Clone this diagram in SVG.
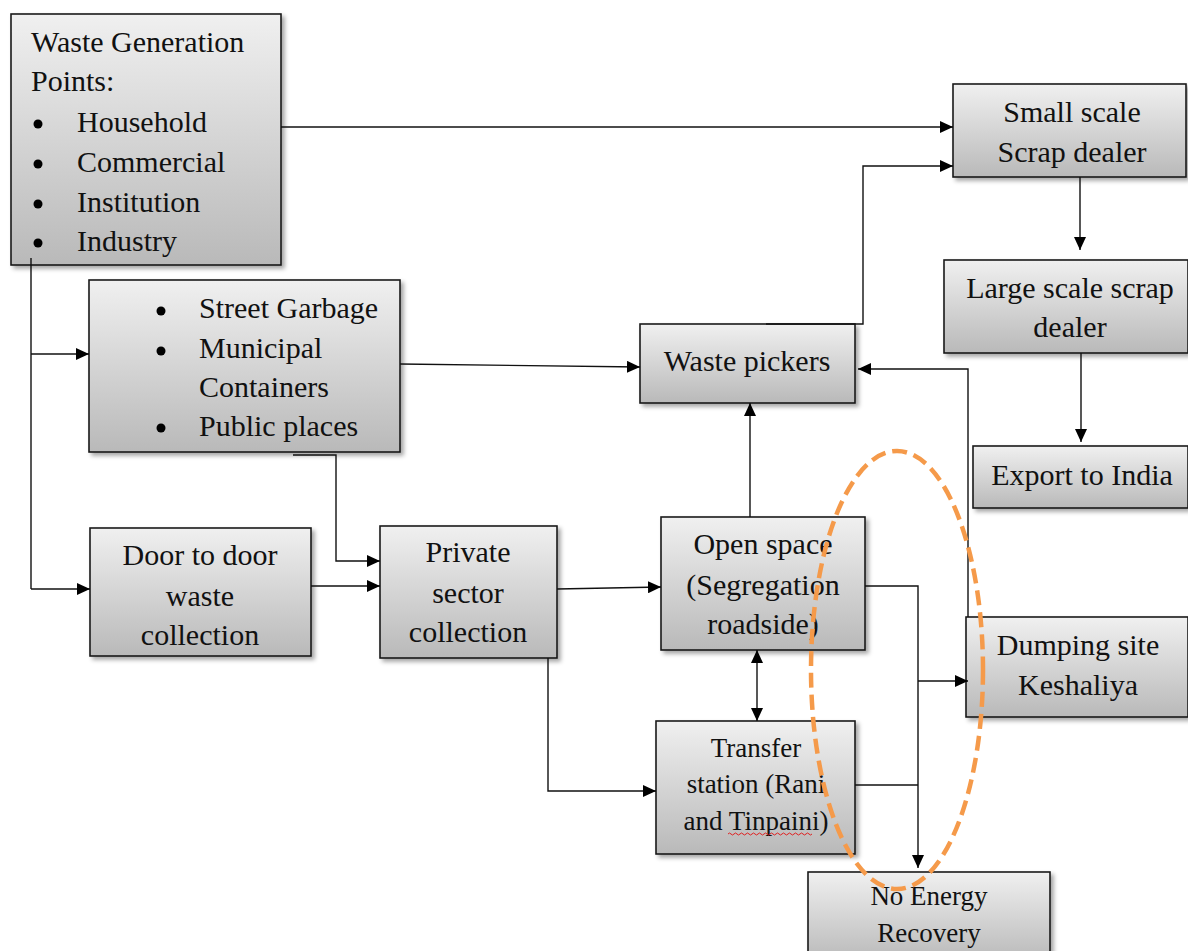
<svg xmlns="http://www.w3.org/2000/svg" width="1188" height="951" viewBox="0 0 1188 951">
<defs>
<linearGradient id="g" x1="0" y1="0" x2="0" y2="1">
<stop offset="0" stop-color="#f0f0f0"/>
<stop offset="1" stop-color="#b9b9b9"/>
</linearGradient>
<filter id="sh" x="-10%" y="-10%" width="120%" height="130%">
<feDropShadow dx="3" dy="3" stdDeviation="2" flood-color="#000" flood-opacity="0.35"/>
</filter>
<marker id="ah" viewBox="0 0 13 12" refX="13" refY="6" markerWidth="13" markerHeight="12" markerUnits="userSpaceOnUse" orient="auto-start-reverse">
<path d="M0,0 L13,6 L0,12 z" fill="#000"/>
</marker>
<style>
.box{fill:url(#g);stroke:#1a1a1a;stroke-width:1.6;filter:url(#sh)}
text{font-family:"Liberation Serif","Times New Roman",serif;font-size:30px;fill:#111}
.c{text-anchor:middle}
.s{font-size:27px}
.ln{fill:none;stroke:#111;stroke-width:1.4}
.ar{marker-end:url(#ah)}
</style>
</defs>

<g id="waste-generation">
<rect class="box" x="11" y="14" width="270" height="251"/>
<text x="31" y="52">Waste Generation</text>
<text x="31" y="91">Points:</text>
<circle cx="38" cy="124" r="4.5"/><text x="77" y="132">Household</text>
<circle cx="38" cy="164" r="4.5"/><text x="77" y="172">Commercial</text>
<circle cx="38" cy="204" r="4.5"/><text x="77" y="212">Institution</text>
<circle cx="38" cy="243" r="4.5"/><text x="77" y="251">Industry</text>
</g>

<g id="street-garbage">
<rect class="box" x="89" y="280" width="311" height="172"/>
<circle cx="161" cy="311" r="4.5"/><text x="199" y="318">Street Garbage</text>
<circle cx="161" cy="351" r="4.5"/><text x="199" y="358">Municipal</text>
<text x="199" y="397">Containers</text>
<circle cx="161" cy="428" r="4.5"/><text x="199" y="436">Public places</text>
</g>

<g id="door-to-door">
<rect class="box" x="90" y="528" width="221" height="128"/>
<text class="c" x="200" y="565">Door to door</text>
<text class="c" x="200" y="606">waste</text>
<text class="c" x="200" y="645">collection</text>
</g>

<g id="private-sector">
<rect class="box" x="380" y="526" width="177" height="132"/>
<text class="c" x="468" y="562">Private</text>
<text class="c" x="468" y="603">sector</text>
<text class="c" x="468" y="642">collection</text>
</g>

<g id="waste-pickers">
<rect class="box" x="640" y="324" width="215" height="79"/>
<text class="c" x="747" y="371">Waste pickers</text>
</g>

<g id="open-space">
<rect class="box" x="661" y="517" width="204" height="133"/>
<text class="c" x="763" y="554">Open space</text>
<text class="c" x="763" y="595">(Segregation</text>
<text class="c" x="763" y="634">roadside)</text>
</g>

<g id="transfer-station">
<rect class="box" x="656" y="721" width="199" height="133"/>
<text class="c s" x="756" y="757">Transfer</text>
<text class="c s" x="756" y="793">station (Rani</text>
<text class="c s" x="756" y="830">and Tinpaini)</text>
<path d="M728,834 q1.5,-2 3,0 t3,0 t3,0 t3,0 t3,0 t3,0 t3,0 t3,0 t3,0 t3,0 t3,0 t3,0 t3,0 t3,0 t3,0 t3,0 t3,0 t3,0 t3,0 t3,0 t3,0 t3,0 t3,0 t3,0 t3,0 t3,0 t3,0 t3,0" fill="none" stroke="#e02020" stroke-width="1"/>
</g>

<g id="no-energy-recovery">
<rect class="box" x="808" y="872" width="242" height="90"/>
<text class="c s" x="929" y="905">No Energy</text>
<text class="c s" x="929" y="942">Recovery</text>
</g>

<g id="small-scale">
<rect class="box" x="953" y="84" width="233" height="93"/>
<text class="c" x="1072" y="122">Small scale</text>
<text class="c" x="1072" y="162">Scrap dealer</text>
</g>

<g id="large-scale">
<rect class="box" x="944" y="260" width="244" height="93"/>
<text class="c" x="1070" y="298">Large scale scrap</text>
<text class="c" x="1070" y="337">dealer</text>
</g>

<g id="export-india">
<rect class="box" x="973" y="446" width="215" height="62"/>
<text class="c" x="1082" y="485">Export to India</text>
</g>

<g id="dumping-site">
<rect class="box" x="966" y="617" width="222" height="100"/>
<text class="c" x="1078" y="655">Dumping site</text>
<text class="c" x="1078" y="695">Keshaliya</text>
</g>

<g id="connectors">
<path class="ln ar" d="M281,127 H953"/>
<path class="ln ar" d="M766,324 H863 V166 H953"/>
<path class="ln ar" d="M1080,177 V250"/>
<path class="ln ar" d="M1081,353 V442"/>
<path class="ln ar" d="M968,617 V369 H858"/>
<path class="ln" d="M31,258 V589"/>
<path class="ln ar" d="M31,354 H89"/>
<path class="ln ar" d="M31,589 H90"/>
<path class="ln ar" d="M293,455 H336 V561 H380"/>
<path class="ln ar" d="M311,586 H380"/>
<path class="ln ar" d="M400,364 L640,367"/>
<path class="ln ar" d="M557,589 L661,587"/>
<path class="ln ar" d="M548,658 V791 H656"/>
<path class="ln ar" d="M750,517 V403"/>
<path class="ln ar" d="M757,650 V721" marker-start="url(#ah)"/>
<path class="ln ar" d="M865,586 H918 V868"/>
<path class="ln" d="M855,785 H918"/>
<path class="ln ar" d="M918,681 H968"/>
</g>

<g id="highlight">
<ellipse cx="897" cy="670" rx="86" ry="219" fill="none" stroke="#f59a4a" stroke-width="4.5" stroke-dasharray="15 7"/>
</g>
</svg>
